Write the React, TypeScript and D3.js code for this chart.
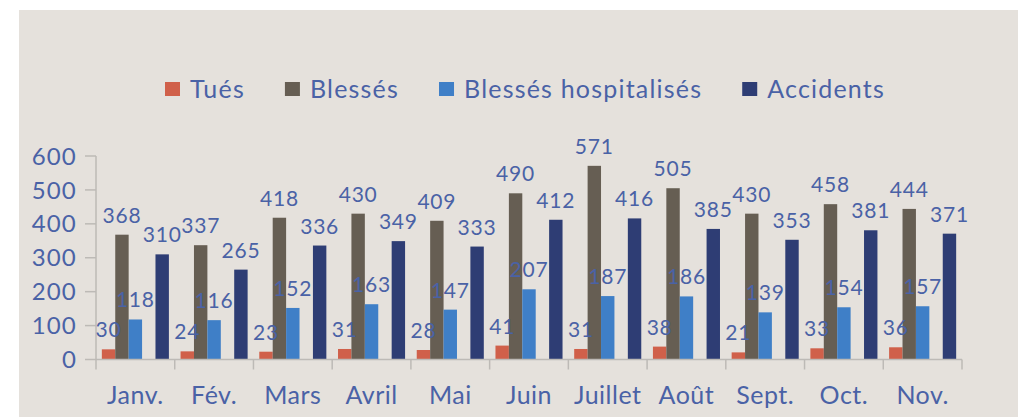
import React, { useEffect, useRef } from "react";
import * as d3 from "d3";

const months = ["Janv.", "Fév.", "Mars", "Avril", "Mai", "Juin", "Juillet", "Août", "Sept.", "Oct.", "Nov."];
const tues = [30, 24, 23, 31, 28, 41, 31, 38, 21, 33, 36];
const blesses = [368, 337, 418, 430, 409, 490, 571, 505, 430, 458, 444];
const hospitalises = [118, 116, 152, 163, 147, 207, 187, 186, 139, 154, 157];
const accidents = [310, 265, 336, 349, 333, 412, 416, 385, 353, 381, 371];
const yTicks = [0, 100, 200, 300, 400, 500, 600];

const seriesNames = ["Tués", "Blessés", "Blessés hospitalisés", "Accidents"];
const seriesColors = ["#d0604a", "#665e53", "#3f7fc7", "#2e3d74"];
const slotKeys = ["Tués", "Blessés", "Blessés hospitalisés", "__gap", "Accidents"];

const W = 1018;
const H = 417;
const TEXT = "#4a62a6";
const FONT = "Lato, 'Open Sans', sans-serif";

export default function App() {
  const ref = useRef<SVGSVGElement | null>(null);

  useEffect(() => {
    const svg = d3.select(ref.current);
    svg.selectAll("*").remove();

    svg.append("rect").attr("x", 0).attr("y", 0).attr("width", W).attr("height", H).attr("fill", "#ffffff");
    svg.append("rect").attr("x", 19).attr("y", 10).attr("width", W - 19).attr("height", H - 10).attr("fill", "#e5e1dc");

    const x0 = d3.scaleBand<string>().domain(months).range([96, 962]).padding(0);
    const x1 = d3.scaleBand<string>().domain(slotKeys).range([0, x0.bandwidth()]).paddingInner(0).paddingOuter(0.435);
    const y = d3.scaleLinear().domain([0, 600]).range([359.5, 156]);

    const seriesData = [tues, blesses, hospitalises, accidents];

    const g = svg.append("g");
    g.append("line").attr("x1", 96).attr("x2", 96).attr("y1", y(600)).attr("y2", y(0)).attr("stroke", "#bdbab6").attr("stroke-width", 1.5);
    yTicks.forEach((t) => {
      g.append("line").attr("x1", 85).attr("x2", 96).attr("y1", y(t)).attr("y2", y(t)).attr("stroke", "#bdbab6").attr("stroke-width", 1.5);
      g.append("text").attr("x", 77).attr("y", y(t)).attr("dy", "0.36em").attr("text-anchor", "end")
        .attr("font-family", FONT).attr("font-size", 24).attr("letter-spacing", 1.2).attr("fill", TEXT).text(String(t));
    });

    seriesData.forEach((vals, si) => {
      const key = seriesNames[si];
      months.forEach((m, i) => {
        const bx = (x0(m) as number) + (x1(key) as number);
        g.append("rect").attr("x", bx).attr("y", y(vals[i])).attr("width", x1.bandwidth())
          .attr("height", y(0) - y(vals[i])).attr("fill", seriesColors[si]);
      });
    });

    g.append("line").attr("x1", 96).attr("x2", 962).attr("y1", y(0)).attr("y2", y(0)).attr("stroke", "#bdbab6").attr("stroke-width", 1.5);
    const edges = months.map((m) => x0(m) as number).concat([962]);
    edges.forEach((ex) => {
      g.append("line").attr("x1", ex).attr("x2", ex).attr("y1", y(0)).attr("y2", y(0) + 10).attr("stroke", "#bdbab6").attr("stroke-width", 1.5);
    });
    months.forEach((m) => {
      g.append("text").attr("x", (x0(m) as number) + x0.bandwidth() / 2).attr("y", 404).attr("text-anchor", "middle")
        .attr("font-family", FONT).attr("font-size", 25).attr("letter-spacing", 0.5).attr("fill", TEXT).text(m);
    });

    seriesData.forEach((vals, si) => {
      const key = seriesNames[si];
      months.forEach((m, i) => {
        const cx = (x0(m) as number) + (x1(key) as number) + x1.bandwidth() / 2;
        g.append("text").attr("x", cx).attr("y", y(vals[i]) - 12).attr("text-anchor", "middle")
          .attr("font-family", FONT).attr("font-size", 21).attr("letter-spacing", 0.8).attr("fill", TEXT).text(String(vals[i]));
      });
    });

    const lg = svg.append("g");
    let cx = 165;
    seriesNames.forEach((name, i) => {
      lg.append("rect").attr("x", cx).attr("y", 82).attr("width", 15).attr("height", 14).attr("fill", seriesColors[i]);
      const t = lg.append("text").attr("x", cx + 25).attr("y", 98).attr("font-family", FONT).attr("font-size", 25)
        .attr("letter-spacing", 1.2).attr("fill", TEXT).text(name);
      const w = (t.node() as SVGTextElement).getComputedTextLength();
      cx = cx + 25 + w + 40;
    });
  }, []);

  return <svg ref={ref} width={W} height={H} style={{ display: "block", position: "absolute", left: 0, top: 0 }} />;
}
